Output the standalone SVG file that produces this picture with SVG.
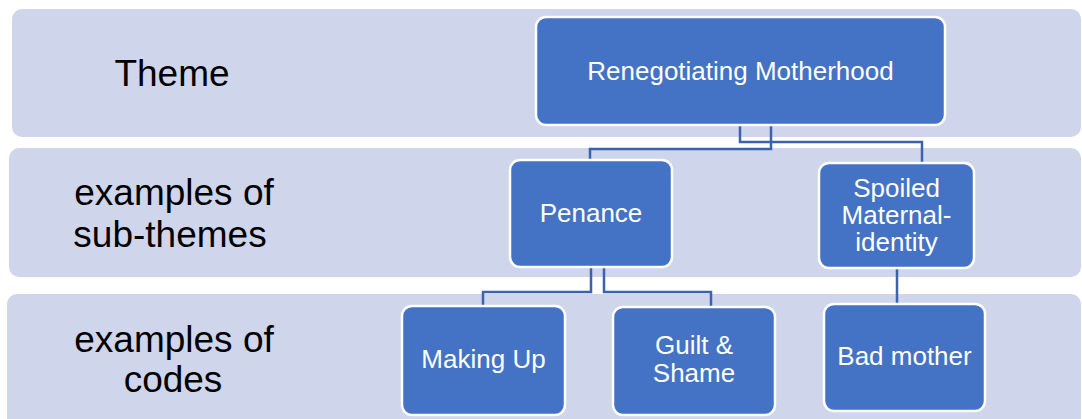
<svg xmlns="http://www.w3.org/2000/svg" width="1082" height="419" viewBox="0 0 1082 419">
  <style>
    .band { fill: #CFD5EA; }
    .label { font-family: "Liberation Sans", Arial, sans-serif; font-size: 37px; fill: #000000; text-anchor: middle; }
    .node rect { fill: #4472C4; stroke: #FFFFFF; stroke-width: 2.5; }
    .node text { font-family: "Liberation Sans", Arial, sans-serif; font-size: 26px; fill: #FFFFFF; text-anchor: middle; }
    .links path { fill: none; stroke: #3B62AC; stroke-width: 2.5; }
  </style>
  <rect width="1082" height="419" fill="#FFFFFF"/>

  <!-- level bands -->
  <g id="bands">
    <rect class="band" x="12" y="9" width="1069" height="128" rx="10"/>
    <rect class="band" x="9" y="148" width="1072" height="129" rx="10"/>
    <rect class="band" x="7" y="294" width="1074" height="140" rx="10"/>
  </g>

  <!-- level labels -->
  <g id="labels">
    <text class="label" x="172" y="86">Theme</text>
    <text class="label" x="174" y="205">examples of</text>
    <text class="label" x="170" y="247">sub-themes</text>
    <text class="label" x="174" y="352">examples of</text>
    <text class="label" x="173" y="392">codes</text>
  </g>

  <!-- connectors -->
  <g class="links" id="connectors">
    <path d="M771 125 V149 H590 V160"/>
    <path d="M740 125 V142 H922 V163"/>
    <path d="M591 267 V292 H483 V306"/>
    <path d="M604 267 V292 H711 V307"/>
    <path d="M897 268 V304"/>
  </g>

  <g class="node" id="node-renegotiating-motherhood">
    <rect x="536" y="17" width="409" height="108" rx="10"/>
    <text x="740.5" y="80">Renegotiating Motherhood</text>
  </g>

  <g class="node" id="node-penance">
    <rect x="510" y="160" width="162" height="107" rx="10"/>
    <text x="591" y="222">Penance</text>
  </g>

  <g class="node" id="node-spoiled-maternal-identity">
    <rect x="819" y="163" width="155" height="105" rx="10"/>
    <text x="896.5" y="197">Spoiled</text>
    <text x="896.5" y="224">Maternal-</text>
    <text x="896.5" y="251">identity</text>
  </g>

  <g class="node" id="node-making-up">
    <rect x="402" y="306" width="163" height="109" rx="10"/>
    <text x="483.5" y="368">Making Up</text>
  </g>

  <g class="node" id="node-guilt-shame">
    <rect x="613" y="307" width="162" height="108" rx="10"/>
    <text x="694" y="354">Guilt &amp;</text>
    <text x="694" y="382">Shame</text>
  </g>

  <g class="node" id="node-bad-mother">
    <rect x="824" y="304" width="161" height="107" rx="10"/>
    <text x="904.5" y="365">Bad mother</text>
  </g>
</svg>
